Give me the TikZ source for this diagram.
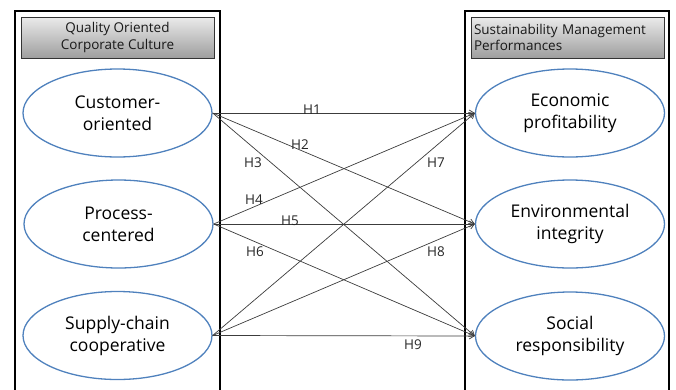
\documentclass[tikz,border=0pt]{standalone}
\usepackage{fontspec}
\setmainfont{Open Sans}
\usetikzlibrary{arrows.meta,shapes.geometric}
\definecolor{ellblue}{RGB}{79,129,189}
\definecolor{linegray}{RGB}{60,60,60}
\tikzset{
  panel/.style={draw=black,line width=1.4pt},
  header/.style={draw=black!80,line width=0.7pt,top color=black!8,bottom color=black!38,
     minimum width=193pt,minimum height=41pt,inner sep=2pt,font=\fontsize{13.5}{16.5}\selectfont,text=black!90},
  construct/.style={ellipse,draw=ellblue,line width=1.3pt,minimum width=189pt,minimum height=88pt,
     align=center,font=\fontsize{17.5}{22}\selectfont,text=black},
  hyp/.style={-{Straight Barb[length=5pt,width=6pt]},draw=linegray,line width=0.7pt},
  hlabel/.style={font=\fontsize{13.5}{15}\selectfont,text=black!85,inner sep=0pt}
}
\begin{document}
\begin{tikzpicture}[x=1pt,y=-1pt]
\useasboundingbox (0,0) rectangle (676,389);
\begin{scope}
\clip (0,0) rectangle (676,389);
\draw[panel] (15,400) -- (15,11) -- (220,11) -- (220,400);
\draw[panel] (465,400) -- (465,11) -- (669,11) -- (669,400);
\end{scope}
\node[header,align=center] (hl) at (117.5,37.5) {Quality Oriented\\Corporate Culture};
\node[header,align=left,text width=187pt] (hr) at (567.5,37.5) {Sustainability Management\\Performances};
\node[construct] (c1) at (117.5,113) {Customer-\\oriented};
\node[construct] (c2) at (118.5,224) {Process-\\centered};
\node[construct] (c3) at (117.5,335.5) {Supply-chain\\cooperative};
\node[construct] (e1) at (570,113) {Economic\\profitability};
\node[construct] (e2) at (570,224) {Environmental\\integrity};
\node[construct] (e3) at (570,336) {Social\\responsibility};
\foreach \s in {c1,c2,c3}{
  \foreach \t in {e1,e2,e3}{
    \draw[hyp] (\s.east) -- (\t.west);
  }
}
\node[hlabel] (h1) at (312,110) {H1};
\node[hlabel] (h2) at (300,145) {H2};
\node[hlabel] (h3) at (253,163) {H3};
\node[hlabel] (h4) at (254,200) {H4};
\node[hlabel] (h5) at (290,221) {H5};
\node[hlabel] (h6) at (255,252) {H6};
\node[hlabel] (h7) at (436,163) {H7};
\node[hlabel] (h8) at (436,252) {H8};
\node[hlabel] (h9) at (413,345) {H9};
\end{tikzpicture}
\end{document}
